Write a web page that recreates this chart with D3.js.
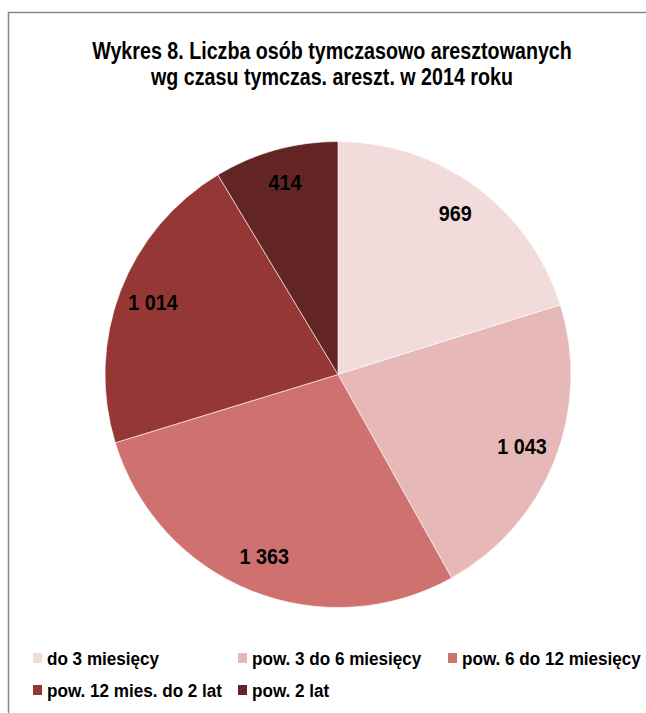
<!DOCTYPE html>
<html lang="pl">
<head>
  <meta charset="UTF-8">
  <title>Wykres 8</title>
  <script src="https://d3js.org/d3.v7.min.js"></script>
  <style>
    body {
      margin: 0;
      background: #fff;
      font-family: "Liberation Sans", Arial, sans-serif;
    }
    text { font-weight: bold; fill: #000; }
    .title { font-size: 24px; }
    .label { font-size: 22.5px; }
    .legend text { font-size: 19px; }
  </style>
</head>
<body>
  <div id="chart"></div>
  <script>
    // data
    const categories = ["do 3 miesięcy", "pow. 3 do 6 miesięcy", "pow. 6 do 12 miesięcy", "pow. 12 mies. do 2 lat", "pow. 2 lat"];
    const values = [969, 1043, 1363, 1014, 414];
    const colors = ["#f2dcdb", "#e6b9b8", "#cf716f", "#953735", "#632523"];
    const titleLines = ["Wykres 8. Liczba osób tymczasowo aresztowanych", "wg czasu tymczas. areszt. w 2014 roku"];

    const W = 646, H = 713;
    // fake Arial Narrow by squeezing Liberation Sans horizontally
    const squeeze = { title: 0.82, label: 0.88, legend: 0.9 };
    const svg = d3.select("#chart").append("svg")
      .attr("width", W)
      .attr("height", H);

    // frame (runs off the right and bottom edges)
    svg.append("rect")
      .attr("x", 8.5).attr("y", 12.5)
      .attr("width", W).attr("height", H)
      .attr("fill", "none")
      .attr("stroke", "#888")
      .attr("stroke-width", 1.5);

    svg.selectAll(".title")
      .data(titleLines)
      .join("text")
      .attr("class", "title")
      .attr("transform", (d, i) => `translate(332,${59 + i * 26}) scale(${squeeze.title},1)`)
      .attr("text-anchor", "middle")
      .text(d => d);

    const cx = 338, cy = 374.5, r = 233;
    const fmt = v => d3.format(",")(v).replace(/,/g, " ");

    const pie = d3.pie().sort(null).value(d => d)(values);
    const arc = d3.arc().innerRadius(0).outerRadius(r);
    const labelArc = d3.arc().innerRadius(r * 0.85).outerRadius(r * 0.85);

    const g = svg.append("g").attr("transform", `translate(${cx},${cy})`);
    g.selectAll("path")
      .data(pie)
      .join("path")
      .attr("d", arc)
      .attr("fill", (d, i) => colors[i])
      .attr("stroke", "#fff")
      .attr("stroke-width", 0.6);

    g.selectAll(".label")
      .data(pie)
      .join("text")
      .attr("class", "label")
      .attr("transform", d => {
        const [x, y] = labelArc.centroid(d);
        return `translate(${x},${y - 2}) scale(${squeeze.label},1)`;
      })
      .attr("text-anchor", "middle")
      .attr("dy", "0.35em")
      .text(d => fmt(d.data));

    // legend
    const legendPos = [[33, 658], [238, 658], [448, 658], [33, 690], [238, 690]];
    const lg = svg.append("g").attr("class", "legend");
    const item = lg.selectAll("g")
      .data(categories)
      .join("g")
      .attr("transform", (d, i) => `translate(${legendPos[i][0]},${legendPos[i][1]})`);
    item.append("rect")
      .attr("x", 0).attr("y", -5)
      .attr("width", 9).attr("height", 10)
      .attr("fill", (d, i) => colors[i]);
    item.append("text")
      .attr("transform", `translate(14,0) scale(${squeeze.legend},1)`)
      .attr("dy", "0.35em")
      .text(d => d);
  </script>
</body>
</html>
